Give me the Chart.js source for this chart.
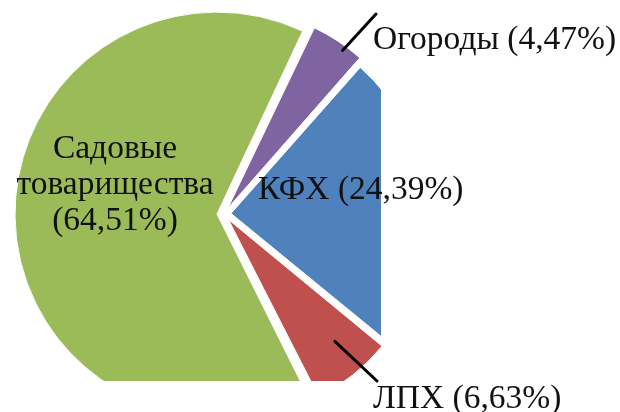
<!DOCTYPE html>
<html lang="ru">
<head>
<meta charset="UTF-8">
<title>Структура производства</title>
<style>
    body { margin: 0; background: #fff; }
    .wrap { position: relative; width: 620px; height: 412px; }
</style>
</head>
<body>
<div class="wrap"><canvas id="pieChart"></canvas></div>

<script src="https://cdn.jsdelivr.net/npm/chart.js"></script>
<script>
// данные
const categories = ['КФХ', 'ЛПХ', 'Садовые товарищества', 'Огороды'];
const shares = [24.39, 6.63, 64.51, 4.47];
const sliceLabels = [
    ['КФХ (24,39%)'],
    ['ЛПХ (6,63%)'],
    ['Садовые', 'товарищества', '(64,51%)'],
    ['Огороды (4,47%)']
];
const sliceColors = ['#4F81BD', '#C0504D', '#9BBB59', '#8064A2'];

// где ставить подписи (x, y базовой линии, выравнивание)
const labelPos = [
    {x: 258, y: 199, align: 'left'},
    {x: 373, y: 408, align: 'left'},
    {x: 115, y: 158, align: 'center'},
    {x: 373, y: 49, align: 'left'}
];
// выноски: t - доля угла сектора, r - доля радиуса, (x, y) - конец у подписи
const leaders = [null, {t: 0.4, r: 0.83, x: 377, y: 381}, null, {t: 0.66, r: 1.0, x: 376, y: 14}];

// рисунок обрезан справа и снизу
const clipPlugin = {
    id: 'clipPie',
    beforeDatasetsDraw(chart) {
        const ctx = chart.ctx;
        ctx.save();
        ctx.beginPath();
        ctx.rect(0, 0, 381, 381);
        ctx.clip();
    },
    afterDatasetsDraw(chart) {
        chart.ctx.restore();
    }
};

const labelPlugin = {
    id: 'pieLabels',
    afterDraw(chart) {
        const ctx = chart.ctx;
        const arcs = chart.getDatasetMeta(0).data;
        const off = chart.data.datasets[0].offset / 4;
        ctx.save();
        // выноски
        ctx.strokeStyle = '#000';
        ctx.lineWidth = 3;
        ctx.lineCap = 'round';
        arcs.forEach((arc, i) => {
            const l = leaders[i];
            if (!l) return;
            const mid = (arc.startAngle + arc.endAngle) / 2;
            const a = arc.startAngle + (arc.endAngle - arc.startAngle) * l.t;
            const cx = arc.x + Math.cos(mid) * off;
            const cy = arc.y + Math.sin(mid) * off;
            ctx.beginPath();
            ctx.moveTo(cx + Math.cos(a) * arc.outerRadius * l.r, cy + Math.sin(a) * arc.outerRadius * l.r);
            ctx.lineTo(l.x, l.y);
            ctx.stroke();
        });
        // подписи
        ctx.fillStyle = '#111';
        ctx.font = '33.5px "Liberation Serif", serif';
        ctx.textBaseline = 'alphabetic';
        sliceLabels.forEach((lines, i) => {
            const p = labelPos[i];
            ctx.textAlign = p.align;
            lines.forEach((t, k) => ctx.fillText(t, p.x, p.y + k * 36));
        });
        ctx.restore();
    }
};

const ctx = document.getElementById('pieChart').getContext('2d');
const pieChart = new Chart(ctx, {
    type: 'pie',
    data: {
        labels: categories,
        datasets: [{
            data: shares,
            backgroundColor: sliceColors,
            borderColor: '#fff',
            borderWidth: 1,
            offset: 28,
            radius: 195
        }]
    },
    options: {
        responsive: true,
        maintainAspectRatio: false,
        animation: false,
        rotation: 41.5,
        layout: { padding: { left: 0, right: 172, top: 16, bottom: 0 } },
        plugins: {
            legend: { display: false },
            tooltip: { enabled: false }
        }
    },
    plugins: [clipPlugin, labelPlugin]
});
</script>
</body>
</html>
